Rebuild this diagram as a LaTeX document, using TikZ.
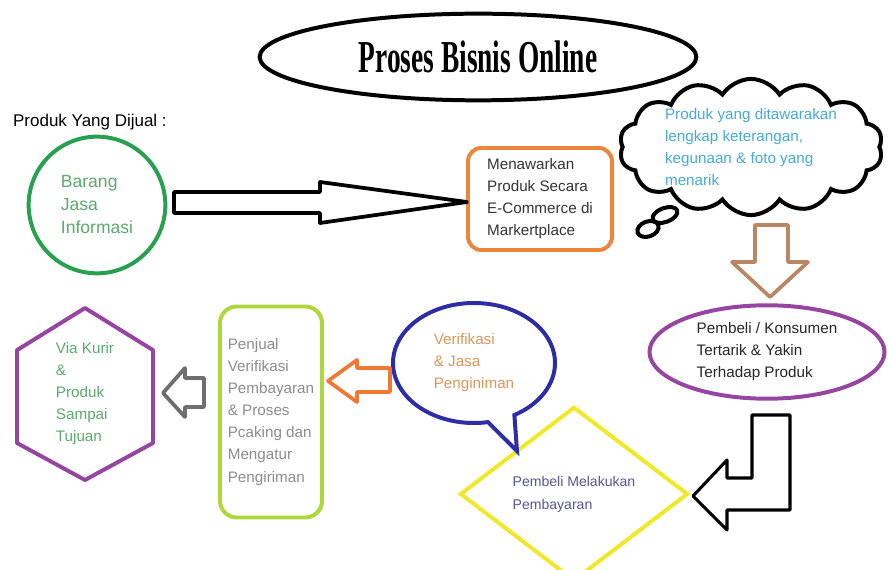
\documentclass[tikz,border=0pt]{standalone}
\usepackage{fontspec}
\setmainfont{Liberation Sans}
\newfontfamily\judulfont{Liberation Serif}
\usepackage{tikz}
\usetikzlibrary{shapes, calc}

\definecolor{hijau}{RGB}{40,160,80}
\definecolor{hijauteks}{RGB}{90,170,110}
\definecolor{oranye}{RGB}{235,135,60}
\definecolor{biruteks}{RGB}{70,170,210}
\definecolor{coklat}{RGB}{185,135,100}
\definecolor{ungu}{RGB}{150,70,160}
\definecolor{kuning}{RGB}{240,232,40}
\definecolor{diamondteks}{RGB}{85,85,150}
\definecolor{biru}{RGB}{45,45,165}
\definecolor{bubbleteks}{RGB}{220,150,90}
\definecolor{oranye2}{RGB}{240,120,50}
\definecolor{lime}{RGB}{175,215,60}
\definecolor{abu}{RGB}{140,140,140}
\definecolor{abu2}{RGB}{110,110,110}

\tikzset{
    teks/.style={align=left, font=\fontsize{13}{18.8}\selectfont},
    garis/.style={line width=3.4pt},
    panah/.style={line width=3.2pt, line join=round},
}

\begin{document}
\begin{tikzpicture}[x=0.03cm, y=-0.03cm]
            \useasboundingbox (0,0) rectangle (888,570);

            % judul
            \node[draw, ellipse, garis, minimum width=13.1cm, minimum height=2.6cm] (judul) at (478,57)
                {\judulfont\fontsize{39}{42}\selectfont\scalebox{0.6}[1]{\bfseries Proses Bisnis Online}};

            \node[anchor=west, font=\fontsize{14.5}{17}\selectfont] (label) at (9,122) {Produk Yang Dijual :};

            % baris atas
            \node[draw=hijau, circle, garis, minimum size=4.1cm, teks, text=hijauteks,
                  font=\fontsize{15}{19.6}\selectfont] (n0) at (97,205) {Barang\\Jasa\\Informasi};
            \node[draw=oranye, rectangle, rounded corners=0.4cm, garis, minimum width=4.32cm,
                  minimum height=3.06cm, teks, text=black!80] (n1) at (540,199)
                {Menawarkan\\Produk Secara\\E-Commerce di\\Markertplace};
            \node[draw, cloud, cloud puffs=14, cloud puff arc=115, cloud ignores aspect, garis, inner sep=0pt,
                  minimum width=7.9cm, minimum height=3.4cm, teks, text=biruteks] (n2) at (751,147)
                {Produk yang ditawarakan\\lengkap keterangan,\\kegunaan \& foto yang\\menarik};
            \node[draw, ellipse, garis, rotate=20, minimum width=0.78cm, minimum height=0.42cm] (b1) at (665,215) {};
            \node[draw, ellipse, garis, rotate=20, minimum width=0.66cm, minimum height=0.45cm] (b2) at (648,229) {};

            % baris bawah
            \node[draw=ungu, ellipse, garis, minimum width=7.05cm, minimum height=2.67cm, teks,
                  text=black!85] (n3) at (767,352) {Pembeli / Konsumen\\Tertarik \& Yakin\\Terhadap Produk};
            \node[draw=kuning, diamond, garis, minimum width=6.84cm, minimum height=4.62cm, teks,
                  font=\fontsize{12}{19.6}\selectfont, text=diamondteks] (n4) at (574,494)
                {Pembeli Melakukan\\Pembayaran};
            \coordinate (ekor) at (517,451);
            \node[draw=biru, ellipse callout, callout absolute pointer={(ekor)}, callout pointer arc=20,
                  garis, minimum width=4.86cm, minimum height=3.6cm, teks, text=bubbleteks] (n5) at (474,363)
                {Verifikasi\\\& Jasa\\Penginiman};
            \node[draw=lime, rectangle, rounded corners=0.5cm, garis, minimum width=3.06cm,
                  minimum height=6.33cm, teks, text=abu] (n6) at (271,412)
                {Penjual\\Verifikasi\\Pembayaran\\\& Proses\\Pcaking dan\\Mengatur\\Pengiriman};
            \node[outer sep=0, minimum width=4.08cm, minimum height=5.16cm, teks, text=hijauteks] (n7) at (85,394)
                {Via Kurir\\\&\\Produk\\Sampai\\Tujuan};
            \draw[draw=ungu, garis, line join=round] (n7.north)
                -- ($(n7.north east)!0.245!(n7.south east)$)
                -- ($(n7.north east)!0.785!(n7.south east)$)
                -- (n7.south)
                -- ($(n7.north west)!0.785!(n7.south west)$)
                -- ($(n7.north west)!0.245!(n7.south west)$) -- cycle;

            % panah-panah
            \draw[panah] (174,192) -- (320,192) -- (320,182) -- (467,202) -- (320,223) -- (320,213) -- (174,213) -- cycle;
            \draw[panah, draw=coklat] (755,225) -- (788,225) -- (788,262) -- (808,262) -- (770,297)
                -- (732,262) -- (755,262) -- cycle;
            \draw[panah, line width=2.6pt] (752,415) -- (790,415) -- (790,510) -- (727,510) -- (727,530)
                -- (693,496) -- (727,460) -- (727,478) -- (752,478) -- cycle;
            \draw[panah, draw=oranye2] (390,368) -- (357,368) -- (357,360) -- (328,381) -- (357,402)
                -- (357,392) -- (390,392) -- cycle;
            \draw[panah, draw=abu2] (204,378) -- (185,378) -- (185,368) -- (163,393) -- (185,417)
                -- (185,407) -- (204,407) -- cycle;
    	\end{tikzpicture}
\end{document}
